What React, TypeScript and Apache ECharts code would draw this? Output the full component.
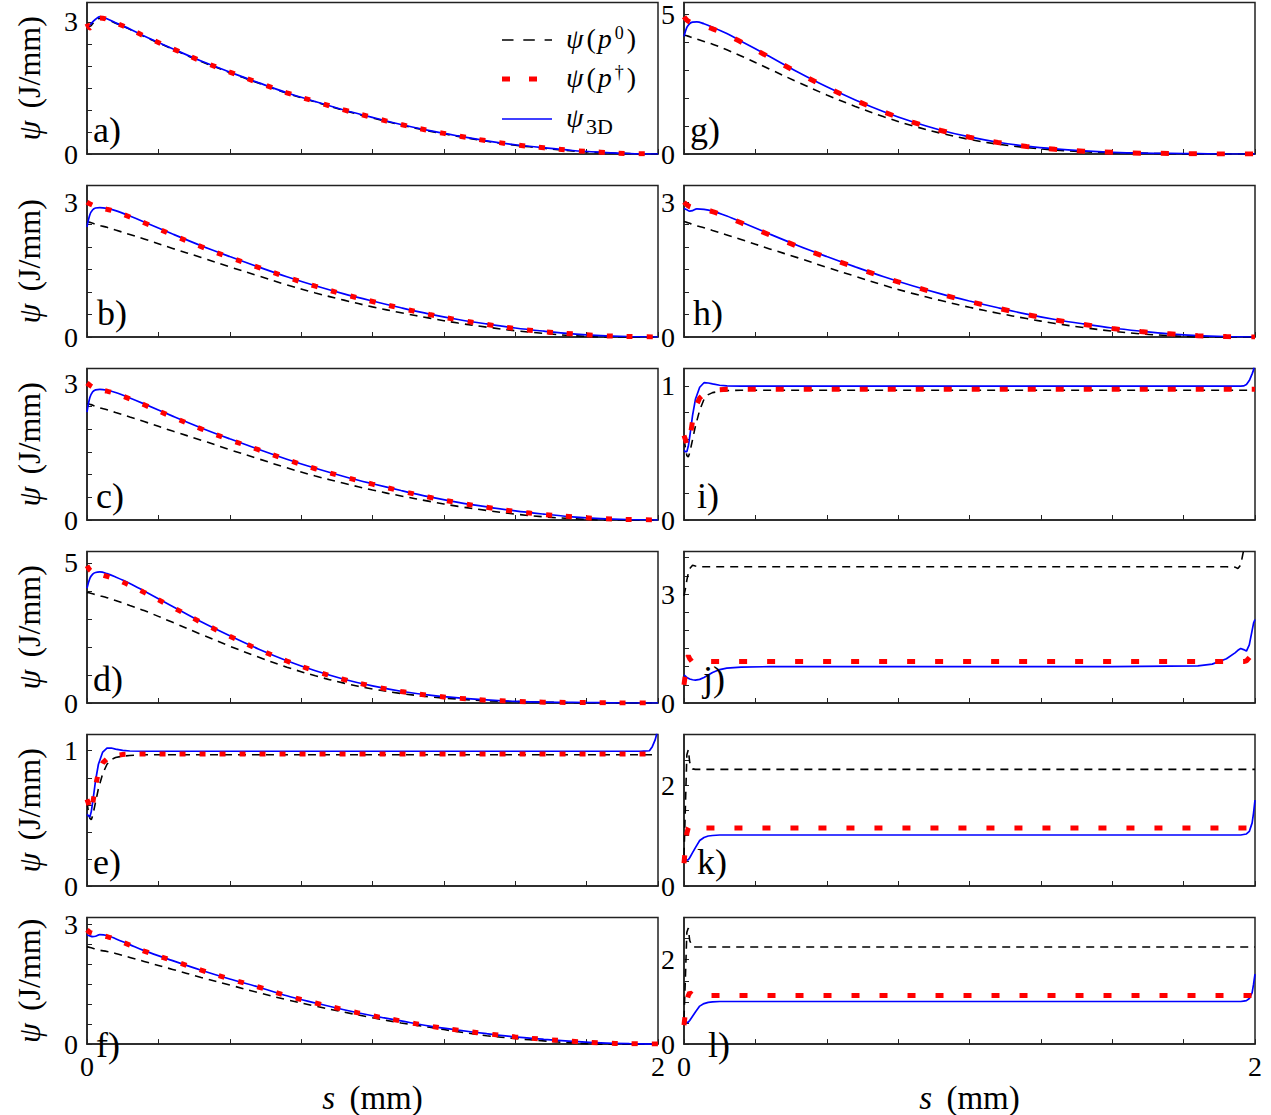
import React, { useEffect, useRef } from 'react';
import * as echarts from 'echarts';

const FONT = '"Liberation Serif", "DejaVu Serif", serif';

// s grids (mm)
const S_DECAY = [0, 0.01, 0.02, 0.03, 0.045, 0.07, 0.1, 0.15, 0.2, 0.3, 0.4, 0.5, 0.6, 0.7, 0.8, 0.9, 1.0, 1.1, 1.2, 1.3, 1.4, 1.5, 1.6, 1.7, 1.8, 1.9, 2.0];
const S_FLAT = [0, 0.005, 0.01, 0.015, 0.02, 0.03, 0.04, 0.055, 0.07, 0.085, 0.1, 0.125, 0.15, 0.2, 0.3, 0.5, 1.0, 1.5, 1.8, 1.85, 1.9, 1.93, 1.94, 1.95, 1.96, 1.97, 1.98, 1.99, 1.995, 2.0];

// a)
const a_p0 = [2.92, 2.9, 2.96, 3.03, 3.08, 3.05, 2.97, 2.83, 2.67, 2.38, 2.1, 1.85, 1.61, 1.38, 1.18, 0.99, 0.82, 0.66, 0.52, 0.4, 0.29, 0.2, 0.13, 0.07, 0.03, 0.01, 0.0];
const a_pd = [2.96, 2.86, 2.95, 3.03, 3.09, 3.06, 2.98, 2.84, 2.68, 2.39, 2.11, 1.86, 1.62, 1.39, 1.19, 1.0, 0.83, 0.67, 0.53, 0.41, 0.3, 0.21, 0.14, 0.08, 0.04, 0.01, 0.0];
const a_3d = [2.87, 2.93, 3.0, 3.06, 3.12, 3.07, 2.98, 2.84, 2.68, 2.39, 2.11, 1.86, 1.62, 1.39, 1.19, 1.0, 0.83, 0.67, 0.53, 0.41, 0.3, 0.21, 0.14, 0.08, 0.04, 0.01, 0.0];
// b)
const b_p0 = [2.57, 2.55, 2.53, 2.51, 2.48, 2.44, 2.38, 2.28, 2.18, 1.97, 1.77, 1.56, 1.36, 1.16, 0.98, 0.82, 0.67, 0.54, 0.42, 0.31, 0.22, 0.14, 0.08, 0.03, 0.0, -0.01, 0.0];
const b_pd = [3.0, 2.96, 2.93, 2.9, 2.87, 2.84, 2.79, 2.67, 2.54, 2.27, 2.01, 1.77, 1.55, 1.33, 1.13, 0.95, 0.79, 0.64, 0.5, 0.38, 0.28, 0.19, 0.12, 0.07, 0.03, 0.01, 0.0];
const b_3d = [2.45, 2.72, 2.83, 2.87, 2.88, 2.86, 2.81, 2.69, 2.56, 2.29, 2.03, 1.79, 1.56, 1.34, 1.14, 0.96, 0.8, 0.65, 0.51, 0.39, 0.29, 0.2, 0.13, 0.07, 0.03, 0.01, 0.0];
// c)
const c_p0 = [2.57, 2.55, 2.53, 2.5, 2.47, 2.43, 2.37, 2.27, 2.17, 1.96, 1.76, 1.55, 1.35, 1.15, 0.97, 0.81, 0.66, 0.53, 0.41, 0.3, 0.21, 0.13, 0.07, 0.03, 0.0, -0.01, 0.0];
const c_pd = [3.02, 2.97, 2.93, 2.9, 2.87, 2.84, 2.79, 2.67, 2.54, 2.27, 2.01, 1.77, 1.55, 1.33, 1.13, 0.95, 0.79, 0.64, 0.5, 0.38, 0.28, 0.19, 0.12, 0.07, 0.03, 0.01, 0.0];
const c_3d = [2.38, 2.7, 2.83, 2.87, 2.88, 2.86, 2.81, 2.69, 2.56, 2.29, 2.03, 1.79, 1.56, 1.34, 1.14, 0.96, 0.8, 0.65, 0.51, 0.39, 0.29, 0.2, 0.13, 0.07, 0.03, 0.01, 0.0];
// d)
const d_p0 = [3.95, 3.93, 3.9, 3.87, 3.83, 3.76, 3.66, 3.48, 3.3, 2.88, 2.45, 2.03, 1.64, 1.28, 0.97, 0.71, 0.5, 0.34, 0.22, 0.14, 0.08, 0.05, 0.03, 0.01, 0.0, 0.0, 0.0];
const d_pd = [4.9, 4.75, 4.68, 4.64, 4.6, 4.52, 4.42, 4.2, 3.95, 3.42, 2.88, 2.38, 1.92, 1.5, 1.14, 0.84, 0.6, 0.41, 0.27, 0.17, 0.1, 0.06, 0.03, 0.02, 0.01, 0.0, 0.0];
const d_3d = [4.1, 4.45, 4.6, 4.66, 4.68, 4.62, 4.5, 4.27, 4.0, 3.45, 2.9, 2.4, 1.93, 1.51, 1.15, 0.85, 0.61, 0.42, 0.28, 0.18, 0.11, 0.06, 0.03, 0.02, 0.01, 0.0, 0.0];
// e)
const e_p0 = [0.62, 0.55, 0.5, 0.49, 0.52, 0.62, 0.72, 0.83, 0.9, 0.935, 0.95, 0.96, 0.965, 0.97, 0.97, 0.97, 0.97, 0.97, 0.97, 0.97, 0.97, 0.97, 0.97, 0.97, 0.97, 0.97, 0.97, 0.97, 0.97, 0.97];
const e_pd = [0.64, 0.61, 0.57, 0.56, 0.61, 0.74, 0.84, 0.91, 0.94, 0.955, 0.965, 0.972, 0.975, 0.976, 0.976, 0.976, 0.976, 0.976, 0.976, 0.976, 0.976, 0.976, 0.976, 0.976, 0.976, 0.976, 0.976, 0.976, 0.976, 0.976];
const e_3d = [0.53, 0.52, 0.51, 0.55, 0.62, 0.78, 0.9, 0.99, 1.02, 1.02, 1.012, 1.003, 0.998, 0.996, 0.996, 0.996, 0.996, 0.996, 0.996, 0.996, 0.996, 0.996, 0.996, 0.997, 0.998, 1.0, 1.03, 1.08, 1.12, 1.2];
// f)
const f_p0 = [2.44, 2.42, 2.4, 2.38, 2.35, 2.32, 2.27, 2.17, 2.07, 1.87, 1.67, 1.48, 1.29, 1.11, 0.95, 0.8, 0.66, 0.53, 0.42, 0.31, 0.21, 0.14, 0.08, 0.03, 0.0, -0.01, 0.0];
const f_pd = [2.86, 2.8, 2.77, 2.75, 2.73, 2.69, 2.62, 2.48, 2.33, 2.09, 1.85, 1.63, 1.43, 1.21, 1.03, 0.86, 0.71, 0.58, 0.45, 0.35, 0.26, 0.18, 0.12, 0.07, 0.03, 0.01, 0.0];
const f_3d = [2.74, 2.71, 2.69, 2.7, 2.74, 2.72, 2.64, 2.49, 2.34, 2.09, 1.85, 1.63, 1.43, 1.21, 1.03, 0.86, 0.71, 0.58, 0.45, 0.35, 0.26, 0.18, 0.12, 0.07, 0.03, 0.01, 0.0];
// g)
const g_p0 = [4.25, 4.22, 4.19, 4.15, 4.1, 4.02, 3.92, 3.72, 3.5, 3.03, 2.56, 2.11, 1.7, 1.33, 1.01, 0.74, 0.52, 0.35, 0.23, 0.14, 0.08, 0.05, 0.03, 0.01, 0.0, 0.0, 0.0];
const g_pd = [4.9, 4.78, 4.72, 4.68, 4.64, 4.57, 4.47, 4.25, 4.0, 3.45, 2.9, 2.38, 1.92, 1.5, 1.14, 0.84, 0.6, 0.41, 0.27, 0.17, 0.1, 0.06, 0.03, 0.02, 0.01, 0.0, 0.0];
const g_3d = [4.2, 4.52, 4.66, 4.71, 4.72, 4.65, 4.53, 4.3, 4.03, 3.48, 2.92, 2.4, 1.93, 1.51, 1.15, 0.85, 0.61, 0.42, 0.28, 0.18, 0.11, 0.06, 0.03, 0.02, 0.01, 0.0, 0.0];
// h)
const h_p0 = [2.57, 2.55, 2.53, 2.5, 2.47, 2.43, 2.37, 2.27, 2.17, 1.96, 1.76, 1.55, 1.35, 1.15, 0.97, 0.81, 0.66, 0.53, 0.41, 0.3, 0.21, 0.13, 0.07, 0.03, 0.0, -0.01, 0.0];
const h_pd = [3.0, 2.94, 2.9, 2.88, 2.86, 2.84, 2.79, 2.67, 2.54, 2.27, 2.01, 1.77, 1.55, 1.33, 1.13, 0.95, 0.79, 0.64, 0.5, 0.38, 0.28, 0.19, 0.12, 0.07, 0.03, 0.01, 0.0];
const h_3d = [2.86, 2.83, 2.8, 2.81, 2.85, 2.84, 2.8, 2.69, 2.56, 2.29, 2.03, 1.79, 1.56, 1.34, 1.14, 0.96, 0.8, 0.65, 0.51, 0.39, 0.29, 0.2, 0.13, 0.07, 0.03, 0.01, 0.0];
// i)
const i_p0 = [0.6, 0.54, 0.48, 0.47, 0.5, 0.6, 0.7, 0.82, 0.9, 0.935, 0.95, 0.96, 0.965, 0.968, 0.968, 0.968, 0.968, 0.968, 0.968, 0.968, 0.968, 0.968, 0.968, 0.968, 0.968, 0.968, 0.968, 0.968, 0.968, 0.968];
const i_pd = [0.63, 0.6, 0.56, 0.55, 0.6, 0.74, 0.84, 0.91, 0.94, 0.955, 0.965, 0.972, 0.975, 0.976, 0.976, 0.976, 0.976, 0.976, 0.976, 0.976, 0.976, 0.976, 0.976, 0.976, 0.976, 0.976, 0.976, 0.976, 0.976, 0.976];
const i_3d = [0.52, 0.51, 0.51, 0.55, 0.62, 0.78, 0.9, 0.99, 1.024, 1.022, 1.015, 1.005, 1.0, 0.998, 0.998, 0.998, 0.998, 0.998, 0.998, 0.998, 0.998, 0.998, 0.998, 0.999, 1.0, 1.01, 1.04, 1.09, 1.12, 1.2];
// j)
const j_p0 = [2.95, 3.15, 3.38, 3.57, 3.7, 3.79, 3.77, 3.75, 3.75, 3.75, 3.75, 3.75, 3.75, 3.75, 3.75, 3.75, 3.75, 3.75, 3.75, 3.75, 3.75, 3.74, 3.7, 3.8, 4.2, 4.6, 4.6, 4.6, 4.6, 4.6];
const j_pd = [0.5, 0.8, 1.2, 1.3, 1.22, 1.12, 1.14, 1.14, 1.14, 1.14, 1.14, 1.14, 1.14, 1.14, 1.14, 1.14, 1.14, 1.14, 1.14, 1.14, 1.14, 1.14, 1.14, 1.14, 1.14, 1.16, 1.25, 1.35, 1.42, 1.5];
const j_3d = [0.77, 0.74, 0.7, 0.68, 0.66, 0.64, 0.63, 0.65, 0.7, 0.77, 0.84, 0.92, 0.96, 0.99, 1.0, 1.0, 1.0, 1.0, 1.02, 1.07, 1.22, 1.38, 1.45, 1.5, 1.47, 1.43, 1.6, 2.0, 2.2, 2.3];
// k)
const k_p0 = [0.6, 1.6, 2.6, 2.7, 2.45, 2.32, 2.31, 2.31, 2.31, 2.31, 2.31, 2.31, 2.31, 2.31, 2.31, 2.31, 2.31, 2.31, 2.31, 2.31, 2.31, 2.31, 2.31, 2.31, 2.31, 2.31, 2.31, 2.31, 2.31, 2.31];
const k_pd = [0.45, 0.75, 1.04, 1.15, 1.2, 1.16, 1.15, 1.15, 1.15, 1.15, 1.15, 1.15, 1.15, 1.15, 1.15, 1.15, 1.15, 1.15, 1.15, 1.15, 1.15, 1.15, 1.15, 1.15, 1.15, 1.15, 1.15, 1.15, 1.15, 1.15];
const k_3d = [0.59, 0.55, 0.51, 0.52, 0.56, 0.66, 0.76, 0.9, 0.96, 0.99, 1.0, 1.01, 1.01, 1.01, 1.01, 1.01, 1.01, 1.01, 1.01, 1.01, 1.01, 1.01, 1.01, 1.01, 1.02, 1.03, 1.08, 1.25, 1.45, 1.7];
// l)
const l_p0 = [0.6, 1.6, 2.65, 2.75, 2.45, 2.31, 2.3, 2.3, 2.3, 2.3, 2.3, 2.3, 2.3, 2.3, 2.3, 2.3, 2.3, 2.3, 2.3, 2.3, 2.3, 2.3, 2.3, 2.3, 2.3, 2.3, 2.3, 2.3, 2.3, 2.3];
const l_pd = [0.45, 0.75, 1.04, 1.15, 1.22, 1.16, 1.15, 1.15, 1.15, 1.15, 1.15, 1.15, 1.15, 1.15, 1.15, 1.15, 1.15, 1.15, 1.15, 1.15, 1.15, 1.15, 1.15, 1.15, 1.15, 1.15, 1.15, 1.15, 1.15, 1.15];
const l_3d = [0.59, 0.55, 0.51, 0.52, 0.56, 0.66, 0.76, 0.9, 0.96, 0.99, 1.0, 1.01, 1.01, 1.01, 1.01, 1.01, 1.01, 1.01, 1.01, 1.01, 1.01, 1.01, 1.01, 1.01, 1.02, 1.03, 1.08, 1.22, 1.42, 1.66];

const TAGS = ['a)', 'b)', 'c)', 'd)', 'e)', 'f)', 'g)', 'h)', 'i)', 'j)', 'k)', 'l)'];
const PANELS = [
  { s: S_DECAY, p0: a_p0, pd: a_pd, d3: a_3d, yMax: 3.44, yStep: 0.5, yLab: 3 },
  { s: S_DECAY, p0: b_p0, pd: b_pd, d3: b_3d, yMax: 3.37, yStep: 0.5, yLab: 3 },
  { s: S_DECAY, p0: c_p0, pd: c_pd, d3: c_3d, yMax: 3.34, yStep: 0.5, yLab: 3 },
  { s: S_DECAY, p0: d_p0, pd: d_pd, d3: d_3d, yMax: 5.41, yStep: 1, yLab: 5 },
  { s: S_FLAT, p0: e_p0, pd: e_pd, d3: e_3d, yMax: 1.12, yStep: 0.2, yLab: 1 },
  { s: S_DECAY, p0: f_p0, pd: f_pd, d3: f_3d, yMax: 3.17, yStep: 0.5, yLab: 3 },
  { s: S_DECAY, p0: g_p0, pd: g_pd, d3: g_3d, yMax: 5.41, yStep: 1, yLab: 5 },
  { s: S_DECAY, p0: h_p0, pd: h_pd, d3: h_3d, yMax: 3.37, yStep: 0.5, yLab: 3 },
  { s: S_FLAT, p0: i_p0, pd: i_pd, d3: i_3d, yMax: 1.13, yStep: 0.2, yLab: 1 },
  { s: S_FLAT, p0: j_p0, pd: j_pd, d3: j_3d, yMax: 4.17, yStep: 0.5, yLab: 3 },
  { s: S_FLAT, p0: k_p0, pd: k_pd, d3: k_3d, yMax: 3.0, yStep: 0.5, yLab: 2 },
  { s: S_FLAT, p0: l_p0, pd: l_pd, d3: l_3d, yMax: 3.0, yStep: 0.5, yLab: 2 },
];

// layout (pixels)
const COL_LEFT = [87, 684];
const ROW_TOP = [2.5, 185.5, 368.5, 551.5, 734.5, 917.5];
const PLOT_W = 571;
const PLOT_H = 151.5;
const TAG_DX = [6, 10, 9, 6, 6, 9, 6, 9, 13, 19, 13, 24];

const AXIS_COLOR = '#222';

function buildOption() {
  const grid: any[] = [];
  const xAxis: any[] = [];
  const yAxis: any[] = [];
  const series: any[] = [];
  const graphic: any[] = [];

  PANELS.forEach((p, i) => {
    const col = i < 6 ? 0 : 1;
    const row = i % 6;
    const left = COL_LEFT[col];
    const top = ROW_TOP[row];
    const flat = p.s === S_FLAT;
    grid.push({ left, top, width: PLOT_W, height: PLOT_H, show: true, borderColor: AXIS_COLOR, borderWidth: 1.5, backgroundColor: 'transparent' });
    const bottomRow = row === 5;
    xAxis.push({
      type: 'value', gridIndex: i, min: 0, max: 2, interval: 0.25,
      axisLine: { show: true, lineStyle: { color: AXIS_COLOR, width: 1.5 } },
      axisTick: { show: true, inside: true, length: 5, lineStyle: { color: AXIS_COLOR, width: 1 } },
      splitLine: { show: false },
      axisLabel: {
        show: bottomRow, margin: 8, fontSize: 28, fontFamily: FONT, color: '#000',
        formatter: (v: number) => (Math.abs(v) < 1e-9 ? '0' : Math.abs(v - 2) < 1e-9 ? '2' : ''),
      },
      name: bottomRow ? '{i|s} (mm)' : '',
      nameLocation: 'middle', nameGap: 7,
      nameTextStyle: {
        fontSize: 33, fontFamily: FONT, color: '#000', verticalAlign: 'top',
        rich: { i: { fontStyle: 'italic', fontSize: 33, fontFamily: FONT, color: '#000', padding: [0, 6, 0, 0] } },
      },
    });
    yAxis.push({
      type: 'value', gridIndex: i, min: 0, max: p.yMax, interval: p.yStep,
      axisLine: { show: true, lineStyle: { color: AXIS_COLOR, width: 1.5 } },
      axisTick: { show: true, inside: true, length: 5, lineStyle: { color: AXIS_COLOR, width: 1 } },
      splitLine: { show: false },
      axisLabel: {
        show: true, margin: 9, fontSize: 28, fontFamily: FONT, color: '#000',
        formatter: (v: number) => (Math.abs(v) < 1e-9 ? '0' : Math.abs(v - p.yLab) < 1e-6 ? String(p.yLab) : ''),
      },
      name: col === 0 ? '{i|ψ} (J/mm)' : '',
      nameLocation: 'middle', nameGap: 42, nameRotate: 90,
      nameTextStyle: {
        fontSize: 32, fontFamily: FONT, color: '#000',
        rich: { i: { fontStyle: 'italic', fontSize: 32, fontFamily: FONT, color: '#000', padding: [0, 4, 0, 0] } },
      },
    });
    const mk = (arr: number[]) => p.s.map((s, k) => [s, arr[k]]);
    const common = { type: 'line', xAxisIndex: i, yAxisIndex: i, showSymbol: false, symbol: 'none', smooth: flat ? false : 0.35, clip: true, silent: true };
    series.push({ ...common, name: 'ψ(p0)', data: mk(p.p0), z: 2, lineStyle: { color: '#000', width: 1.6, type: [8, 6] } });
    series.push({ ...common, name: 'ψ3D', data: mk(p.d3), z: 3, lineStyle: { color: '#0000ff', width: 1.7, type: 'solid' } });
    series.push({ ...common, name: 'ψ(p†)', data: mk(p.pd), z: 4, lineStyle: { color: '#ff0000', width: 5, type: col === 0 ? [6, 14] : [8, 20], cap: 'butt' } });

    graphic.push({
      type: 'text', x: left + TAG_DX[i], y: top + PLOT_H - 24, z: 10,
      style: { text: TAGS[i], fontSize: 36, fontFamily: FONT, fill: '#000', textAlign: 'left', textVerticalAlign: 'middle', align: 'left', verticalAlign: 'middle' },
    });
  });

  // legend (panel a)
  const LEG_Y = [40, 79, 119];
  const legRich = {
    i: { fontStyle: 'italic', fontSize: 28, fontFamily: FONT, fill: '#000', padding: [0, 2, 0, 1] },
    r: { fontSize: 28, fontFamily: FONT, fill: '#000', padding: [0, 1, 0, 1] },
    sup: { fontSize: 18, fontFamily: FONT, fill: '#000', verticalAlign: 'top', padding: [0, 2, 0, 1] },
  };
  graphic.push({ type: 'line', shape: { x1: 502, y1: LEG_Y[0], x2: 552, y2: LEG_Y[0] }, style: { stroke: '#000', lineWidth: 1.6, lineDash: [11.5, 9.8] }, z: 10 });
  graphic.push({ type: 'line', shape: { x1: 502, y1: LEG_Y[1], x2: 552, y2: LEG_Y[1] }, style: { stroke: '#ff0000', lineWidth: 5, lineDash: [8, 19] }, z: 10 });
  graphic.push({ type: 'line', shape: { x1: 502, y1: LEG_Y[2], x2: 552, y2: LEG_Y[2] }, style: { stroke: '#0000ff', lineWidth: 1.7 }, z: 10 });
  const legTexts = ['{i|ψ}{r|(}{i|p}{sup|0}{r|)}', '{i|ψ}{r|(}{i|p}{sup|†}{r|)}', '{i|ψ}'];
  legTexts.forEach((t, k) => {
    graphic.push({
      type: 'text', x: 565, y: LEG_Y[k] - 2, z: 10,
      style: { text: t, rich: legRich, fontSize: 28, fontFamily: FONT, fill: '#000', textAlign: 'left', textVerticalAlign: 'middle', align: 'left', verticalAlign: 'middle' },
    });
  });
  // subscript of ψ3D
  graphic.push({
    type: 'text', x: 586, y: LEG_Y[2] + 7, z: 10,
    style: { text: '3D', fontSize: 22, fontFamily: FONT, fill: '#000', textAlign: 'left', textVerticalAlign: 'middle', align: 'left', verticalAlign: 'middle' },
  });

  return { animation: false, backgroundColor: '#fff', grid, xAxis, yAxis, series, graphic };
}

export default function App() {
  const ref = useRef<HTMLDivElement>(null);
  useEffect(() => {
    if (!ref.current) return;
    const chart = echarts.init(ref.current, null, { renderer: 'svg' });
    chart.setOption(buildOption() as any);
    return () => chart.dispose();
  }, []);
  return <div ref={ref} style={{ position: 'absolute', left: 0, top: 0, width: 1271, height: 1115, background: '#fff' }} />;
}
